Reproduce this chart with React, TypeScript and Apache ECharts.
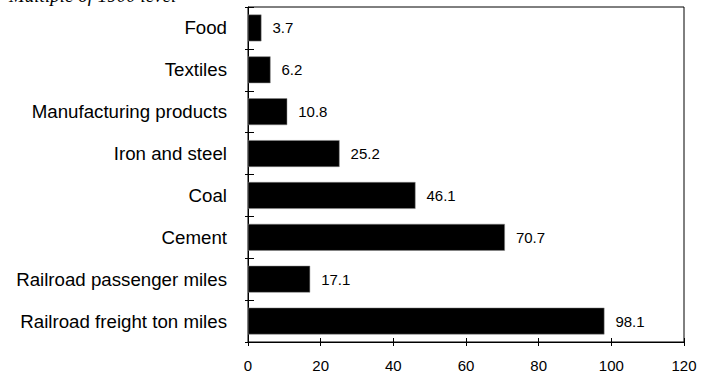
import React, { useEffect, useRef } from "react";
import * as echarts from "echarts";

const categories = [
  "Food",
  "Textiles",
  "Manufacturing products",
  "Iron and steel",
  "Coal",
  "Cement",
  "Railroad passenger miles",
  "Railroad freight ton miles",
];
const values = [3.7, 6.2, 10.8, 25.2, 46.1, 70.7, 17.1, 98.1];
const titleText = "Multiple of 1900 level";

export default function App() {
  const ref = useRef<HTMLDivElement>(null);
  useEffect(() => {
    if (!ref.current) return;
    const chart = echarts.init(ref.current, null, { renderer: "svg" });
    const font = "Liberation Sans, Arial, sans-serif";
    chart.setOption({
      animation: false,
      grid: {
        left: 248,
        right: 21,
        top: 7,
        bottom: 32,
        show: true,
        borderColor: "#000",
        borderWidth: 1,
      },
      graphic: [
        {
          type: "text",
          x: 9,
          y: 5,
          style: {
            text: titleText,
            font: "italic 19px 'Liberation Serif', serif",
            fill: "#000",
            verticalAlign: "bottom",
          },
        },
      ],
      xAxis: [
        {
          type: "value",
          min: 0,
          max: 120,
          interval: 20,
          splitLine: { show: false },
          axisLine: { show: true, lineStyle: { color: "#000", width: 1 } },
          axisTick: { show: true, length: 4, lineStyle: { color: "#000" } },
          axisLabel: { color: "#000", fontSize: 15, fontFamily: font, margin: 16 },
        },
        {
          type: "value",
          position: "bottom",
          min: 0,
          max: 120,
          interval: 20,
          splitLine: { show: false },
          axisLine: { show: false },
          axisTick: { show: true, inside: true, length: 4, lineStyle: { color: "#000" } },
          axisLabel: { show: false },
        },
      ],
      yAxis: [
        {
          type: "category",
          data: categories,
          inverse: true,
          axisLine: { show: true, lineStyle: { color: "#000", width: 1 } },
          axisTick: { show: true, length: 3, lineStyle: { color: "#000" } },
          axisLabel: { color: "#000", fontSize: 18.7, fontFamily: font, margin: 21 },
        },
        {
          type: "category",
          position: "left",
          data: categories,
          inverse: true,
          axisLine: { show: false },
          axisTick: { show: true, inside: true, length: 6, lineStyle: { color: "#000" } },
          axisLabel: { show: false },
        },
      ],
      series: [
        {
          type: "bar",
          xAxisIndex: 0,
          yAxisIndex: 0,
          data: values,
          barCategoryGap: "36%",
          itemStyle: { color: "#000", borderColor: "#888", borderWidth: 0.5 },
          label: {
            show: true,
            position: "right",
            distance: 11,
            color: "#000",
            fontSize: 15,
            fontFamily: font,
          },
        },
      ],
    });
    return () => chart.dispose();
  }, []);
  return (
    <div
      ref={ref}
      style={{ position: "fixed", left: 0, top: 0, width: 705, height: 374, background: "#fff" }}
    />
  );
}
